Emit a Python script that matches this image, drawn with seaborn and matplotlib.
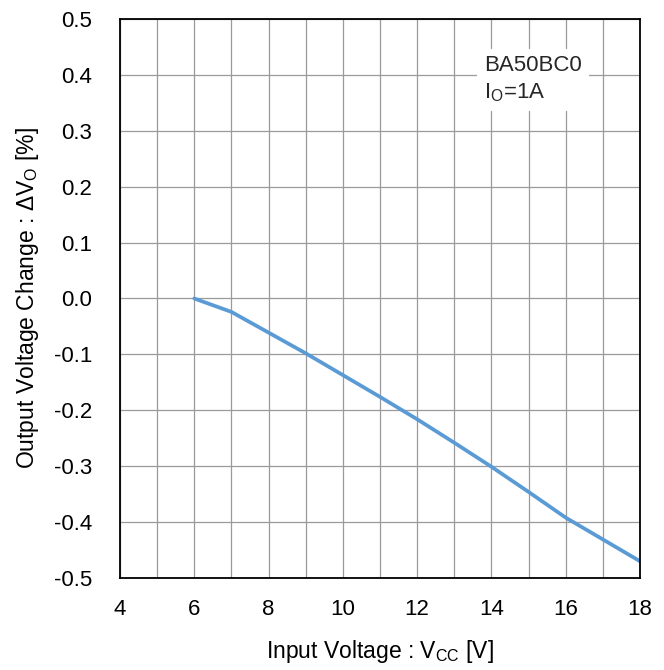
import matplotlib
matplotlib.use("Agg")
import matplotlib.pyplot as plt
import seaborn as sns
import pandas as pd
from matplotlib.ticker import MultipleLocator

# data
vcc = [6, 7, 8, 9, 10, 11, 12, 13, 14, 15, 16, 17, 18]
dvo = [0.0, -0.024, -0.061, -0.098, -0.137, -0.176, -0.216, -0.258, -0.301, -0.346, -0.392, -0.431, -0.470]

df = pd.DataFrame({'vcc': vcc, 'dvo': dvo})

sns.set_theme(style="white")
plt.rcParams['font.family'] = ['Liberation Sans', 'DejaVu Sans']
plt.rcParams['mathtext.fontset'] = 'custom'
plt.rcParams['mathtext.rm'] = 'Liberation Sans'
plt.rcParams['mathtext.it'] = 'Liberation Sans:italic'

fig = plt.figure(figsize=(6.64, 6.70), dpi=100)
ax = fig.add_axes([120/664, 1 - 578/670, 520/664, 559/670])

sns.lineplot(data=df, x='vcc', y='dvo', ax=ax, color='#5B9BD5', linewidth=2.7)

ax.set_xlim(4, 18)
ax.set_ylim(-0.5, 0.5)
ax.xaxis.set_major_locator(MultipleLocator(2))
ax.xaxis.set_minor_locator(MultipleLocator(1))
ax.yaxis.set_major_locator(MultipleLocator(0.1))
ax.set_yticklabels([f'{v:.1f}' for v in ax.get_yticks()])
ax.grid(which='both', color='#9a9a9a', linewidth=0.9)
ax.set_axisbelow(True)
ax.tick_params(axis='both', which='both', length=0, labelsize=16, colors='black')
ax.tick_params(axis='x', pad=15)
ax.tick_params(axis='y', pad=20)
for s in ax.spines.values():
    s.set_color('black')
    s.set_linewidth(1.3)

ax.set_xlabel('Input Voltage : V$_\\mathrm{CC}$ [V]', fontsize=16.5, labelpad=13, color='black')
ax.set_ylabel('Output Voltage Change : ΔV$_\\mathrm{O}$ [%]', fontsize=16.5, labelpad=9, color='black')

ax.text(13.8, 0.435, 'BA50BC0\nI$_\\mathrm{O}$=1A', fontsize=16, ha='left', va='top',
        linespacing=1.3, bbox=dict(facecolor='white', edgecolor='none', pad=5))

fig.savefig('out.png', dpi=100)
